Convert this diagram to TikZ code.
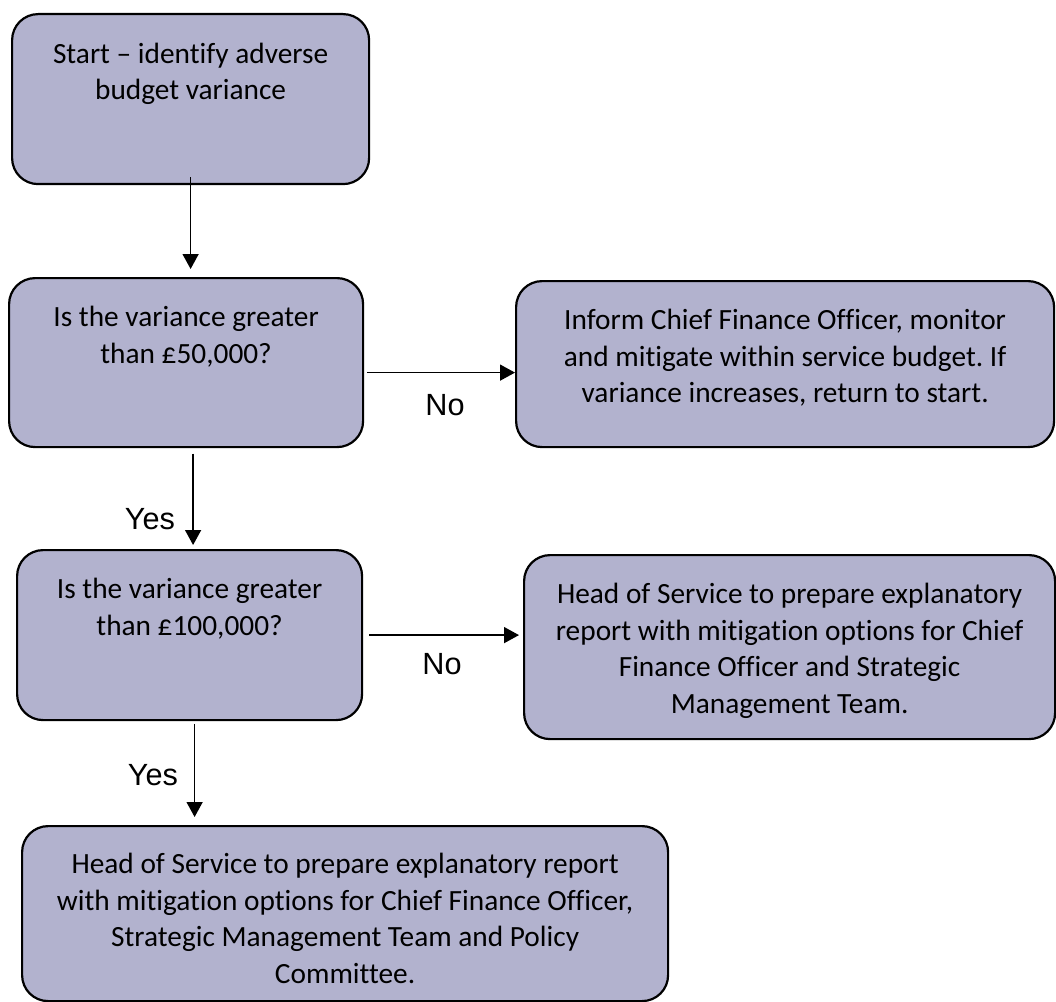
\documentclass[tikz,border=0pt]{standalone}
\usepackage{fontspec}
\setmainfont{Carlito}[Ligatures=NoCommon]
\newfontfamily\labelfont{Liberation Sans}
\usetikzlibrary{arrows.meta}
\frenchspacing
\newlength\pxl
\setlength\pxl{0.75pt}
\definecolor{boxfill}{RGB}{178,178,206}
\newcommand\boxtext[4]{\parbox[c][#2\pxl][t]{#1\pxl}{\centering\vspace*{#3\pxl}#4\par}}
\tikzset{
  stepbox/.style={draw, line width=2.2\pxl, fill=boxfill, rounded corners=26\pxl,
    inner sep=0pt, anchor=north west, font=\fontsize{22}{27.4}\selectfont},
  flow/.style={-{Triangle[length=11.25pt,width=12pt]}, line width=1.15pt},
  answer/.style={font=\labelfont\fontsize{23}{27}\selectfont}
}
\begin{document}
\begin{tikzpicture}[x=0.75pt, y=-0.75pt]
        \useasboundingbox (0,0) rectangle (1056,1002);
        % boxes
        \node[stepbox] (start) at (11,13) {\boxtext{357}{170}{29}{Start – identify adverse\\budget variance}};
        \node[stepbox] (q50) at (8,277) {\boxtext{354}{169}{28}{Is the variance greater\\than £50,000?}};
        \node[stepbox] (inform) at (515,280) {\boxtext{538}{166}{28}{Inform Chief Finance Officer, monitor\\and mitigate within service budget. If\\variance increases, return to start.}};
        \node[stepbox] (q100) at (16,549) {\boxtext{345}{170}{28}{Is the variance greater\\than £100,000?}};
        \node[stepbox] (report) at (523,554) {\boxtext{531}{184}{28}{Head of Service to prepare explanatory\\report with mitigation options for Chief\\Finance Officer and Strategic\\Management Team.}};
        \node[stepbox] (committee) at (21,825) {\boxtext{646}{175}{27}{Head of Service to prepare explanatory report\\with mitigation options for Chief Finance Officer,\\Strategic Management Team and Policy\\Committee.}};
        % answers
        \node[answer] (no50) at (445,405) {No};
        \node[answer] (yes50) at (150,519) {Yes};
        \node[answer] (no100) at (442,664) {No};
        \node[answer] (yes100) at (153,775) {Yes};
        % arrows
        \draw[flow, shorten <=-6pt, shorten >=6pt] (start.south) -- (start.south |- q50.north);
        \draw[flow, shorten <=2pt] ([yshift=-10\pxl]q50.east) -- ([yshift=-10\pxl]q50.east -| inform.west);
        \draw[flow, shorten <=4pt, shorten >=3pt] ([xshift=7\pxl]q50.south) -- ([xshift=7\pxl]q50.south |- q100.north);
        \draw[flow, shorten <=4.5pt, shorten >=3pt] (q100.east) -- (q100.east -| report.west);
        \draw[flow, shorten <=2pt, shorten >=6pt] ([xshift=5\pxl]q100.south) -- ([xshift=5\pxl]q100.south |- committee.north);
\end{tikzpicture}
\end{document}
